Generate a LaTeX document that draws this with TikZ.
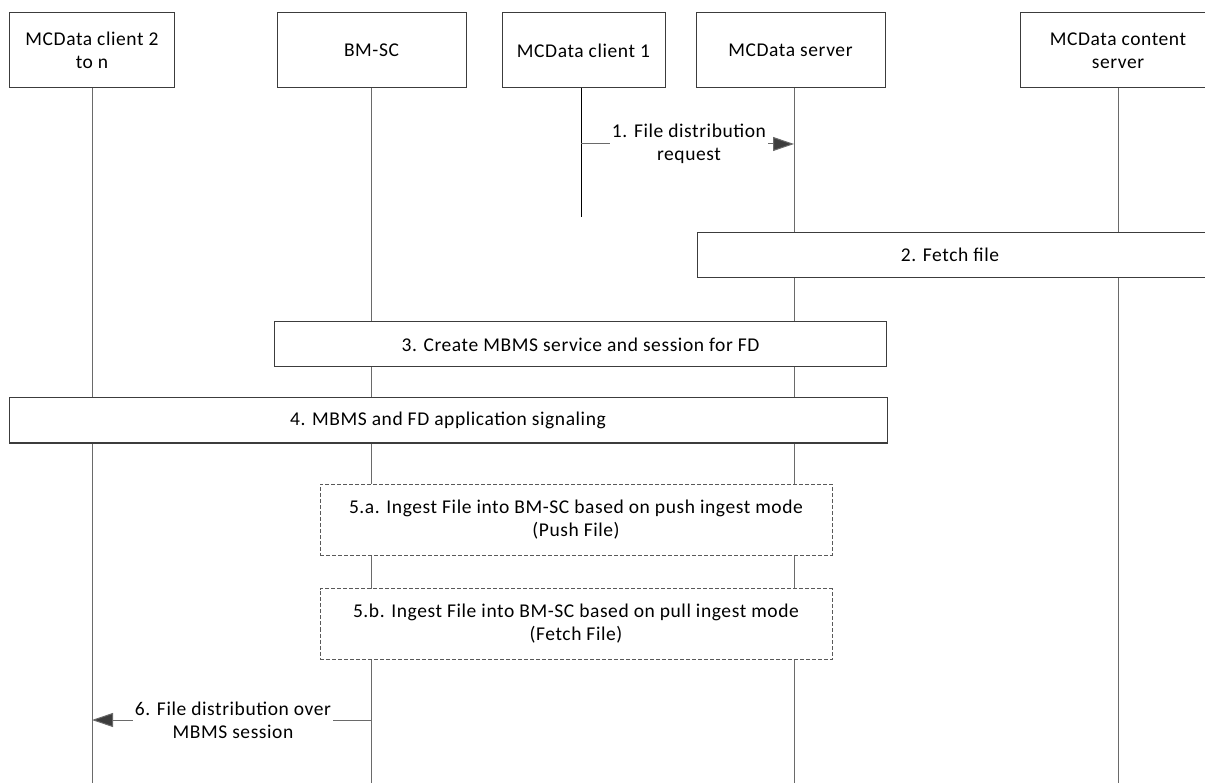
\documentclass[tikz,border=0pt]{standalone}
\usepackage{fontspec}
\setmainfont{Carlito}[LetterSpace=3]
\usetikzlibrary{arrows.meta}
\definecolor{boxline}{HTML}{3C3C3C}
\definecolor{lifeline}{HTML}{6A6A6A}
\begin{document}
\begin{tikzpicture}[x=1pt,y=-1pt,
  every node/.style={font=\fontsize{19.5}{23}\selectfont, inner sep=0pt},
  hdr/.style={draw=boxline, line width=1pt, fill=white, minimum height=75pt, align=center},
  lline/.style={draw=lifeline, line width=1pt},
  bar/.style={draw=boxline, line width=1pt, fill=white, minimum height=45pt},
  dbox/.style={draw=boxline!85, dash pattern=on 4pt off 2pt, line width=0.9pt, fill=white, minimum height=71pt, align=center},
  msg/.style={draw=lifeline, line width=1pt, -{Triangle[length=21pt,width=14pt,fill=boxline]}},
  lbl/.style={fill=white, align=center, inner xsep=2pt, inner ysep=0pt}]
\useasboundingbox (0,0) rectangle (1205,783);
% headers
\node[hdr, minimum width=165pt] (c2) at (92,50.5) {MCData client 2\\to n};
\node[hdr, minimum width=189pt] (bm) at (371.5,50.5) {BM-SC};
\node[hdr, minimum width=163pt] (c1) at (583.5,50.5) {MCData client 1};
\node[hdr, minimum width=189pt] (sv) at (790.5,50.5) {MCData server};
\node[hdr, minimum width=196pt] (cs) at (1118,50.5) {MCData content\\server};
% lifeline ends
\coordinate (c2e) at (92,783);
\coordinate (bme) at (371,783);
\coordinate (c1e) at (581,217);
\coordinate (sve) at (794,783);
\coordinate (cse) at (1118,783);
\draw[lline] (c2.south -| c2e) -- (c2e);
\draw[lline] (bm.south -| bme) -- (bme);
\draw[draw=black, line width=1pt] (c1.south -| c1e) -- (c1e);
\draw[lline] (sv.south -| sve) -- (sve);
\draw[lline] (cs.south -| cse) -- (cse);
% message 1
\coordinate (m1a) at (581,144);
\coordinate (m1b) at (794,144);
\draw[msg] (m1a) -- (m1b);
\node[lbl] (l1) at (689,144) {1. File distribution\\request};
% step 2
\node[bar, minimum width=514pt, anchor=west] (s2) at (697,255) {};
\node (t2) at (950,255) {2. Fetch file};
% step 3
\node[bar, minimum width=612pt] (s3) at (580.5,344.5) {3. Create MBMS service and session for FD};
% step 4
\node[bar, minimum width=878pt] (s4) at (448,420.5) {4. MBMS and FD application signaling};
% step 5a/5b
\node[dbox, minimum width=512pt] (s5a) at (576,519.5) {5.a. Ingest File into BM-SC based on push ingest mode\\(Push File)};
\node[dbox, minimum width=512pt] (s5b) at (576,624) {5.b. Ingest File into BM-SC based on pull ingest mode\\(Fetch File)};
% message 6
\coordinate (m6a) at (371,720);
\coordinate (m6b) at (92,720);
\draw[msg] (m6a) -- (m6b);
\node[lbl] (l6) at (233,720) {6. File distribution over\\MBMS session};
\end{tikzpicture}
\end{document}
